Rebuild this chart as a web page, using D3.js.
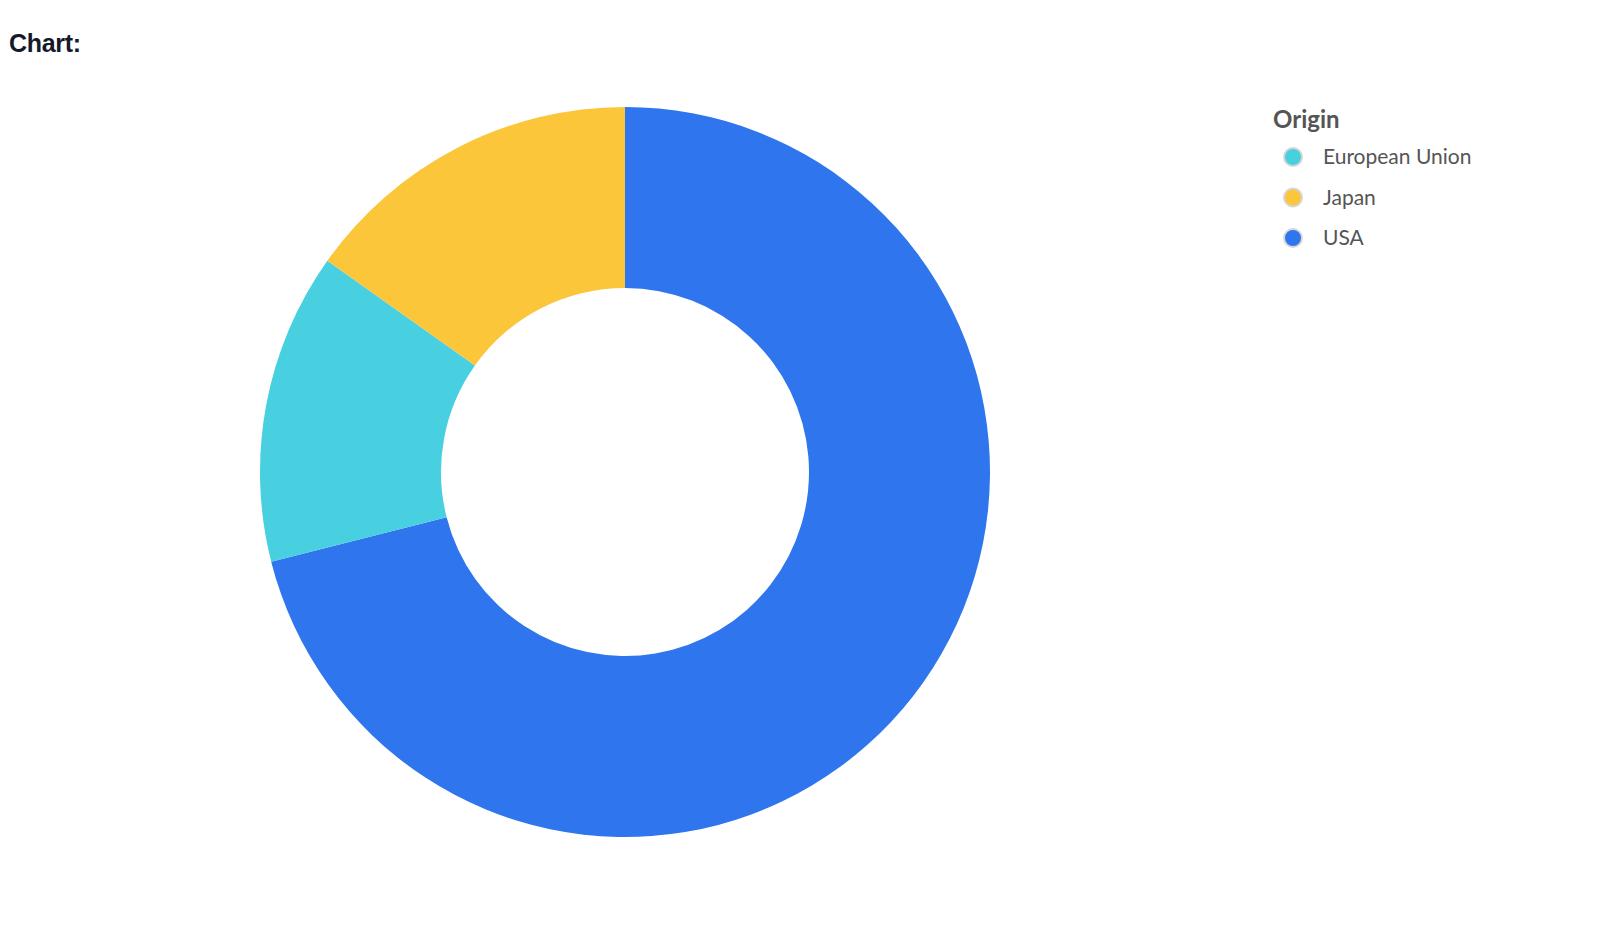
<!DOCTYPE html>
<html>
<head>
<meta charset="utf-8">
<script src="https://cdn.jsdelivr.net/npm/d3@7"></script>
<style>
  body { margin: 0; background: #fff; }
  svg { display: block; }
</style>
</head>
<body>
<svg id="chart"></svg>
<script>
// Sum of horsepower per origin
const origins = ['USA', 'European Union', 'Japan'];
const totals = [29524, 5722, 6307];
const legendOrder = ['European Union', 'Japan', 'USA'];
const palette = ['#2f75ee', '#48d0e0', '#fbc63a'];

const width = 1600, height = 931;
const svg = d3.select('#chart')
    .attr('width', width)
    .attr('height', height);

svg.append('text')
    .attr('x', 9)
    .attr('y', 52)
    .style('font-family', '"Liberation Sans", Arial, sans-serif')
    .style('font-weight', 'bold')
    .style('font-size', '25px')
    .style('letter-spacing', '-0.3px')
    .style('fill', '#151a2b')
    .text('Chart:');

const color = d3.scaleOrdinal().domain(origins).range(palette);

const data = origins.map((o, i) => ({ origin: o, value: totals[i] }));

const pie = d3.pie()
    .sort(null)
    .value(d => d.value);

const arc = d3.arc()
    .innerRadius(184)
    .outerRadius(365);

const g = svg.append('g')
    .attr('transform', 'translate(625,472)');

g.selectAll('path')
    .data(pie(data))
    .enter().append('path')
    .attr('d', arc)
    .attr('fill', d => color(d.data.origin));

// Legend
const legend = svg.append('g')
    .attr('transform', 'translate(1273,0)');

legend.append('text')
    .attr('x', 0)
    .attr('y', 128)
    .style('font-family', 'Lato, "Noto Sans", sans-serif')
    .style('font-weight', 'bold')
    .style('font-size', '24px')
    .style('fill', '#555')
    .text('Origin');

const item = legend.selectAll('g.item')
    .data(legendOrder)
    .enter().append('g')
    .attr('class', 'item')
    .attr('transform', (d, i) => `translate(0,${157 + i * 40.5})`);

item.append('circle')
    .attr('cx', 20)
    .attr('cy', 0)
    .attr('r', 9)
    .attr('fill', d => color(d))
    .attr('stroke', '#d6d6d6')
    .attr('stroke-width', 2);

item.append('text')
    .attr('x', 50)
    .attr('y', 7)
    .style('font-family', 'Lato, "Noto Sans", sans-serif')
    .style('font-size', '21px')
    .style('fill', '#555')
    .text(d => d);
</script>
</body>
</html>
